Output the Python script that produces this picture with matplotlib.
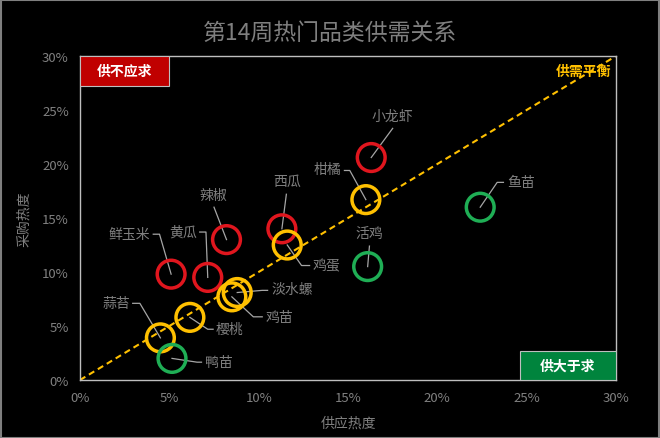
import matplotlib.pyplot as plt
from matplotlib.patches import Rectangle

plt.rcParams['font.family'] = ['Noto Sans CJK SC', 'DejaVu Sans']

# data: supply / demand heat (%)
names = ['鲜玉米', '黄瓜', '辣椒', '西瓜', '小龙虾', '鸡蛋', '柑橘', '淡水螺',
         '鸡苗', '樱桃', '蒜苔', '鸭苗', '活鸡', '鱼苗']
supply = [5.1, 7.15, 8.2, 11.3, 16.3, 11.6, 16.0, 8.8, 8.5, 6.15, 4.5, 5.15, 16.1, 22.4]
demand = [9.8, 9.5, 13.0, 14.0, 20.6, 12.5, 16.7, 8.1, 7.7, 5.8, 3.9, 2.0, 10.5, 16.0]
status = ['short', 'short', 'short', 'short', 'short', 'balance', 'balance', 'balance',
          'balance', 'balance', 'balance', 'over', 'over', 'over']
ticks = [0, 5, 10, 15, 20, 25, 30]

colors = {'short': '#E0161E', 'balance': '#FFC000', 'over': '#1FAE55'}

# label layout: text position, alignment, leader vertices after the point
layout = {
    '鲜玉米': ((3.95, 13.5), 'right', [(4.45, 13.5), (4.1, 13.5)]),
    '黄瓜': ((6.55, 13.7), 'right', [(7.05, 13.7), (6.7, 13.7)]),
    '辣椒': ((7.45, 17.1), 'center', [(7.5, 16.0)]),
    '西瓜': ((11.6, 18.4), 'center', [(11.55, 17.2)]),
    '小龙虾': ((17.5, 24.5), 'center', [(17.5, 23.3)]),
    '鸡蛋': ((13.0, 10.6), 'left', [(12.4, 10.6), (12.85, 10.6)]),
    '柑橘': ((14.6, 19.5), 'right', [(15.1, 19.4), (14.8, 19.4)]),
    '淡水螺': ((10.7, 8.4), 'left', [(10.2, 8.3), (10.5, 8.3)]),
    '鸡苗': ((10.4, 5.8), 'left', [(9.7, 5.85), (10.2, 5.85)]),
    '樱桃': ((7.6, 4.7), 'left', [(7.15, 4.7), (7.45, 4.7)]),
    '蒜苔': ((2.8, 7.1), 'right', [(3.35, 7.1), (2.95, 7.1)]),
    '鸭苗': ((7.0, 1.65), 'left', [(6.55, 1.65), (6.8, 1.65)]),
    '活鸡': ((16.2, 13.6), 'center', [(16.2, 12.4)]),
    '鱼苗': ((23.9, 18.3), 'left', [(23.35, 18.3), (23.7, 18.3)]),
}

fig = plt.figure(figsize=(6.6, 4.39), dpi=100, facecolor='black')
ax = fig.add_axes([80 / 660, 1 - 381 / 439, 536 / 660, 324 / 439])
ax.set_facecolor('black')

ax.plot([0, 30], [0, 30], color='#FFC000', linestyle=(0, (3, 2)), linewidth=1.5, zorder=1)

for n, x, y in zip(names, supply, demand):
    (tx, ty), ha, path = layout[n]
    xs = [x] + [p[0] for p in path]
    ys = [y] + [p[1] for p in path]
    ax.plot(xs, ys, color='#a6a6a6', linewidth=0.9, zorder=2)
    ax.text(tx, ty, n, ha=ha, va='center', color='#808080', fontsize=10, zorder=4)

ax.scatter(supply, demand, s=400, facecolors='none',
           edgecolors=[colors[s] for s in status], linewidths=2.5, zorder=3)

# quadrant tags
ax.add_patch(Rectangle((0, 27.2), 5.0, 2.8, facecolor='#C00000', edgecolor='#bfbfbf',
                       linewidth=0.8, zorder=5))
ax.text(2.5, 28.6, '供不应求', ha='center', va='center', color='white',
        fontsize=10, fontweight='bold', zorder=6)
ax.add_patch(Rectangle((24.6, 0), 5.4, 2.65, facecolor='#00843D', edgecolor='#bfbfbf',
                       linewidth=0.8, zorder=5))
ax.text(27.3, 1.35, '供大于求', ha='center', va='center', color='white',
        fontsize=10, fontweight='bold', zorder=6)
ax.text(29.75, 28.6, '供需平衡', ha='right', va='center', color='#FFC000',
        fontsize=10, fontweight='bold', zorder=6)

ax.set_xlim(0, 30)
ax.set_ylim(0, 30)
ax.set_xticks(ticks)
ax.set_yticks(ticks)
ax.set_xticklabels([f'{t}%' for t in ticks])
ax.set_yticklabels([f'{t}%' for t in ticks])
ax.tick_params(colors='#808080', labelsize=9.5, length=0, pad=8)
for sp in ax.spines.values():
    sp.set_color('#bfbfbf')
    sp.set_linewidth(1.0)

ax.set_xlabel('供应热度', color='#808080', fontsize=10, labelpad=8)
ax.set_ylabel('采购热度', color='#808080', fontsize=10, labelpad=8)
fig.text(0.5, 1 - 33 / 439, '第14周热门品类供需关系', ha='center', va='center',
         color='#7f7f7f', fontsize=16.5)

fig.add_artist(Rectangle((0.001, 0.001), 0.997, 0.997, transform=fig.transFigure,
                         facecolor='none', edgecolor='#7f7f7f', linewidth=1.5))

fig.savefig('out.png', dpi=100, facecolor='black')
